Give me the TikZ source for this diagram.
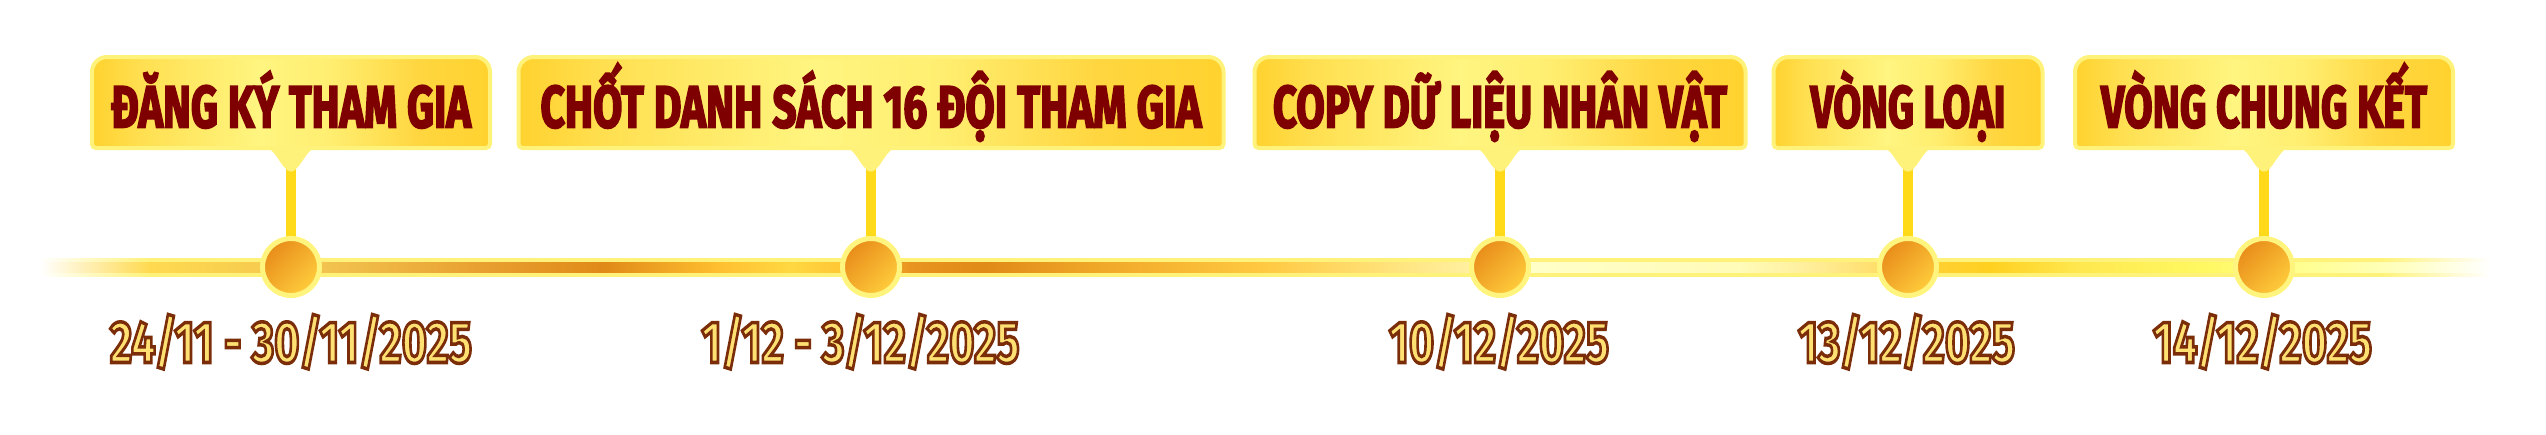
\documentclass[tikz,border=0pt]{standalone}
\usepackage{fontspec}
\usepackage{graphicx}
\setmainfont{Fira Sans}
\newfontfamily\titlefnt{Fira Sans}[FakeBold=3.5]
\newfontfamily\datefnt{Fira Sans}[FakeBold=6]
\usetikzlibrary{calc}
\pgfdeclarelayer{back}
\pgfdeclarelayer{mid}
\pgfsetlayers{back,mid,main}

\definecolor{titlered}{HTML}{7F0000}
\definecolor{datefill}{HTML}{FFE173}
\definecolor{datestroke}{HTML}{7B2D0A}
\definecolor{bxA}{HTML}{FFD22E}
\definecolor{bxB}{HTML}{FFDF50}
\definecolor{bxC}{HTML}{FFF580}
\definecolor{bxD}{HTML}{FFEE70}
\definecolor{bxE}{HTML}{FFD640}
\definecolor{bxborder}{HTML}{FFF27A}
\definecolor{ptr}{HTML}{FFF27A}
\definecolor{stemc}{HTML}{FFDA1A}
\definecolor{ringc}{HTML}{FFF47E}
\definecolor{dotdark}{HTML}{E88C1A}
\definecolor{dotlight}{HTML}{FFCD3C}
\definecolor{bandout}{HTML}{FFF27A}
\definecolor{lA}{HTML}{FFDA50}
\definecolor{lB}{HTML}{F2C24E}
\definecolor{lC}{HTML}{E8A030}
\definecolor{lD}{HTML}{E08A18}
\definecolor{lE}{HTML}{FFC030}
\definecolor{lF}{HTML}{FFD840}
\definecolor{lG}{HTML}{E89420}
\definecolor{lH}{HTML}{F0A828}
\definecolor{lI}{HTML}{FFC840}
\definecolor{lJ}{HTML}{FFE580}
\definecolor{lK}{HTML}{FFF0A0}
\definecolor{lL}{HTML}{FFFFC8}
\definecolor{lM}{HTML}{FFFBB8}
\definecolor{lN}{HTML}{FFE070}
\definecolor{lO}{HTML}{FFD030}
\definecolor{lP}{HTML}{FFD020}
\definecolor{lQ}{HTML}{FFE850}
\definecolor{lR}{HTML}{FFF860}
\definecolor{lS}{HTML}{FFFF90}
\definecolor{lT}{HTML}{FFFFC0}

\pgfdeclarehorizontalshading{boxshade}{100bp}{color(0bp)=(bxA); color(25bp)=(bxA); color(31bp)=(bxB); color(46bp)=(bxC); color(55bp)=(bxD); color(66bp)=(bxE); color(75bp)=(bxA); color(100bp)=(bxA)}
\pgfdeclarehorizontalshading{bandoutshade}{100bp}{color(0bp)=(white); color(25bp)=(white); color(27.24bp)=(bandout); color(72.76bp)=(bandout); color(75bp)=(white); color(100bp)=(white)}
\pgfdeclarehorizontalshading{bandinshade}{100bp}{color(0bp)=(white); color(25bp)=(white); color(27.24bp)=(lA); color(30.92bp)=(lB); color(33.98bp)=(lC); color(36.53bp)=(lD); color(38.88bp)=(lE); color(40.31bp)=(lF); color(41.73bp)=(lE); color(42.76bp)=(lG); color(44.29bp)=(lD); color(46.63bp)=(lH); color(49.9bp)=(lI); color(52.76bp)=(lJ); color(54.18bp)=(lK); color(55.41bp)=(lL); color(59.69bp)=(lM); color(60.92bp)=(lK); color(62.35bp)=(lN); color(63.78bp)=(lO); color(64.8bp)=(lP); color(66.63bp)=(lQ); color(69.08bp)=(lR); color(71.12bp)=(lS); color(73.16bp)=(lT); color(75bp)=(white); color(100bp)=(white)}

\newsavebox\fitbx
\newlength\fitlen
\newcommand\fitw[2]{\sbox\fitbx{#2}\setlength\fitlen{\wd\fitbx}\pgfmathsetmacro\fitsx{#1*0.5/\fitlen}\scalebox{\fitsx}[1]{\usebox\fitbx}}
\newcommand\outl[1]{{\color{datefill}\special{pdf:code 0.482 0.176 0.039 RG}\datefnt\bfseries #1}}

\tikzset{
  tbox/.style={rectangle, inner sep=0pt, outer sep=0pt, minimum height=45.5pt,
    text height=24.8pt, text depth=0pt, text=titlered,
    font=\fontsize{29.5pt}{30pt}\selectfont\titlefnt\bfseries},
  boxfill/.style={shade, shading=boxshade, draw=bxborder, line width=2pt},
  ptrfill/.style={fill=ptr},
  stemline/.style={draw=stemc, line width=5pt},
  dot/.style={circle, inner sep=0pt, outer sep=0pt, minimum size=28.5pt,
    draw=ringc, line width=2.5pt, left color=dotdark, right color=dotlight, shading angle=45},
  dtext/.style={anchor=base, inner sep=0pt, font=\fontsize{29.5pt}{31pt}\selectfont},
  bandouter/.style={shade, shading=bandoutshade},
  bandinner/.style={shade, shading=bandinshade}
}

\newcommand\stage[8]{%
  \node[tbox, minimum width={(#3-4)*0.5pt}] (b#1) at (#2,-102.5) {\fitw{#4}{#5}};
  \node[dot] (c#1) at (#2,-267) {};
  \node[dtext] (d#1) at (#6,-362.5) {\fitw{#7}{\outl{#8}}};
  \begin{pgfonlayer}{mid}
    \path[boxfill] (b#1.south) [rounded corners=2pt] -- (b#1.south west) [rounded corners=7.5pt] -- (b#1.north west) -- (b#1.north east) [rounded corners=2pt] -- (b#1.south east) -- cycle;
    \path[ptrfill] ($(b#1.south)+(-27.5,1)$) .. controls ($(b#1.south)+(-17,1)$) and ($(b#1.south)+(-12,-15)$) .. ($(b#1.south)+(-5,-21)$) .. controls ($(b#1.south)+(-2,-24.5)$) and ($(b#1.south)+(2,-24.5)$) .. ($(b#1.south)+(5,-21)$) .. controls ($(b#1.south)+(12,-15)$) and ($(b#1.south)+(17,1)$) .. ($(b#1.south)+(27.5,1)$) -- cycle;
  \end{pgfonlayer}
  \begin{pgfonlayer}{back}
    \draw[stemline] (b#1.south) -- (c#1.center);
  \end{pgfonlayer}
}

\begin{document}
\begin{tikzpicture}[x=0.5pt,y=0.5pt]
  \useasboundingbox (0,0) rectangle (2546,-434);
  \begin{pgfonlayer}{back}
    \path[bandouter] (40,-258) rectangle (2490,-276);
    \path[bandinner] (40,-262) rectangle (2490,-272);
  \end{pgfonlayer}
  \stage{1}{291}{402}{360}{ĐĂNG KÝ THAM GIA}{291}{362}{24/11 - 30/11/2025}
  \stage{2}{871}{709}{661}{CHỐT DANH SÁCH 16 ĐỘI THAM GIA}{860.5}{318}{1/12 - 3/12/2025}
  \stage{3}{1500}{495}{454}{COPY DỮ LIỆU NHÂN VẬT}{1499}{220}{10/12/2025}
  \stage{4}{1908}{273}{195}{VÒNG LOẠI}{1906.5}{217}{13/12/2025}
  \stage{5}{2264}{382}{326}{VÒNG CHUNG KẾT}{2262.5}{219}{14/12/2025}
\end{tikzpicture}
\end{document}
